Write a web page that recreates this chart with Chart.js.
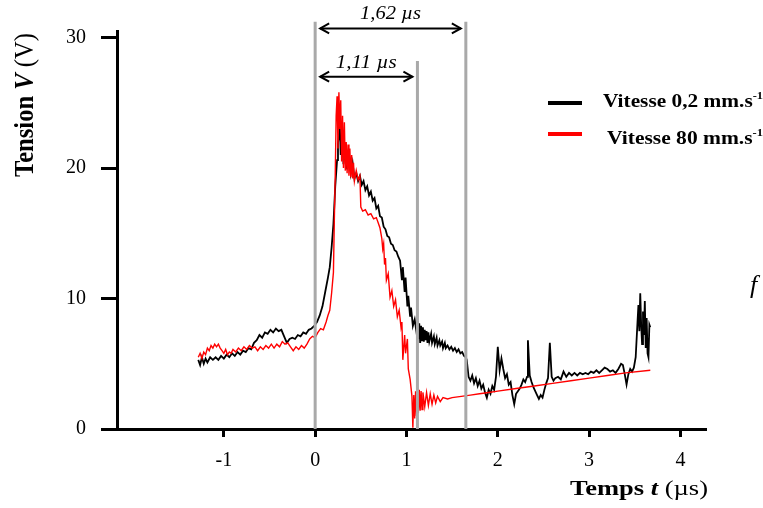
<!DOCTYPE html>
<html>
<head>
<meta charset="utf-8">
<script src="https://cdn.jsdelivr.net/npm/chart.js@4"></script>
<style>
html,body{margin:0;padding:0;background:#fff}
</style>
</head>
<body>
<canvas id="c" width="763" height="508"></canvas>
<script>
// tick labels
const xTicks = [-1, 0, 1, 2, 3, 4];
const yTicks = [0, 10, 20, 30];

// trace "Vitesse 0,2 mm.s-1" (time in µs, tension in V)
const blackTime = [-1.28,-1.26,-1.24,-1.22,-1.20,-1.18,-1.15,-1.12,-1.09,-1.06,-1.03,-1.00,-0.97,-0.94,-0.91,-0.88,-0.85,-0.82,-0.79,-0.76,
  -0.73,-0.70,-0.67,-0.64,-0.61,-0.58,-0.55,-0.52,-0.49,-0.46,-0.43,-0.40,-0.37,-0.34,-0.31,-0.28,-0.25,-0.22,-0.19,-0.16,
  -0.13,-0.10,-0.07,-0.04,-0.01,0.02,0.05,0.08,0.11,0.14,0.16,0.18,0.20,0.22,0.24,0.25,0.27,0.28,0.30,0.31,
  0.33,0.35,0.37,0.39,0.41,0.43,0.45,0.47,0.49,0.51,0.53,0.55,0.57,0.59,0.61,0.63,0.65,0.67,0.69,0.71,
  0.73,0.75,0.77,0.79,0.81,0.83,0.85,0.87,0.89,0.91,0.93,0.95,0.96,0.98,0.99,1.01,1.02,1.04,1.05,1.07,
  1.09,1.11,1.12,1.13,1.14,1.15,1.16,1.17,1.18,1.19,1.20,1.21,1.22,1.23,1.24,1.25,1.27,1.28,1.30,1.31,
  1.33,1.34,1.36,1.37,1.39,1.40,1.42,1.43,1.45,1.47,1.49,1.51,1.53,1.55,1.57,1.59,1.61,1.63,1.65,1.66,
  1.68,1.70,1.72,1.74,1.76,1.78,1.80,1.82,1.84,1.86,1.88,1.90,1.92,1.94,1.96,1.98,2.00,
  2.02,2.04,2.06,2.08,2.10,2.12,2.14,2.16,2.18,2.20,2.22,2.24,2.26,2.28,2.30,2.32,2.33,2.35,2.37,2.39,
  2.41,2.43,2.45,2.47,2.49,2.51,2.53,2.55,2.57,2.59,2.61,2.63,2.66,2.69,2.72,2.75,2.78,2.81,2.84,2.87,
  2.90,2.93,2.96,2.99,3.02,3.05,3.08,3.11,3.14,3.17,3.20,3.23,3.26,3.29,3.32,3.35,3.37,3.39,3.41,3.43,
  3.45,3.47,3.49,3.51,3.53,3.54,3.55,3.56,3.57,3.58,3.59,3.60,3.61,3.62,3.63,3.64,3.65,3.66,3.67];
const blackVolt = [5.3,4.9,5.5,5.0,5.4,5.1,5.5,5.3,5.5,5.3,5.6,5.4,5.7,5.5,5.8,5.6,5.9,5.7,6.0,5.9,
  6.2,6.1,6.6,6.8,7.2,7.0,7.4,7.3,7.6,7.4,7.7,7.5,7.6,7.1,6.6,6.9,7.0,6.9,7.2,7.1,
  7.4,7.3,7.6,7.7,7.9,8.2,8.7,9.4,10.5,11.6,12.4,13.9,15.7,18.6,20.6,21.9,23.2,21.0,22.4,20.3,
  21.9,19.9,21.2,19.6,20.4,19.2,19.6,19.0,19.4,18.7,19.0,18.3,18.6,17.9,18.2,17.5,17.7,16.9,17.1,16.3,
  16.2,15.5,15.3,14.8,14.7,14.2,14.1,13.7,13.6,13.2,12.9,11.4,12.4,10.5,11.6,9.4,10.2,8.6,9.3,7.9,
  8.4,7.4,8.3,6.9,8.1,6.6,7.9,6.8,7.8,6.7,7.6,6.8,7.5,6.6,7.4,6.7,7.3,6.6,7.1,6.5,
  7.0,6.4,6.8,6.4,6.7,6.2,6.6,6.2,6.4,6.1,6.3,6.0,6.2,5.9,6.1,5.8,5.9,5.6,5.5,5.3,
  4.0,3.7,4.1,3.5,3.9,3.3,3.7,3.1,3.4,2.8,2.4,3.0,2.7,3.3,3.0,4.0,6.3,
  4.5,5.4,4.6,3.9,4.2,3.4,3.6,2.6,1.9,2.7,2.9,3.1,3.4,3.8,3.6,4.0,6.8,4.1,3.6,3.2,
  2.9,2.6,2.3,2.6,2.4,3.0,3.5,3.9,6.6,4.0,3.7,3.9,4.0,3.8,4.4,4.0,4.3,4.1,4.3,4.1,
  4.3,4.2,4.3,4.2,4.4,4.3,4.5,4.3,4.5,4.7,4.6,4.4,4.5,4.3,4.6,5.0,4.9,4.2,3.4,4.2,
  4.6,4.4,4.7,5.5,8.2,9.5,7.5,10.4,8.0,6.5,9.0,7.2,9.8,6.2,8.5,5.8,5.5,8.0,7.8];

// trace "Vitesse 80 mm.s-1"
const redTime = [-1.28,-1.26,-1.24,-1.22,-1.20,-1.18,-1.16,-1.14,-1.12,-1.10,-1.08,-1.06,-1.04,-1.02,-1.00,-0.98,-0.96,-0.94,-0.92,-0.90,
  -0.87,-0.84,-0.81,-0.78,-0.75,-0.72,-0.69,-0.66,-0.63,-0.60,-0.57,-0.54,-0.51,-0.48,-0.45,-0.42,-0.39,-0.36,-0.33,-0.30,
  -0.27,-0.24,-0.21,-0.18,-0.15,-0.12,-0.09,-0.06,-0.03,0.00,0.03,0.06,0.09,0.12,0.14,0.16,0.18,0.20,0.21,0.22,
  0.23,0.24,0.25,0.26,0.27,0.28,0.29,0.30,0.31,0.32,0.33,0.34,0.35,0.36,0.37,0.38,0.39,0.40,0.41,0.42,
  0.43,0.45,0.47,0.49,0.50,0.52,0.55,0.58,0.61,0.64,0.67,0.69,0.71,0.73,0.74,0.75,0.76,0.77,0.78,0.80,
  0.82,0.84,0.86,0.88,0.90,0.92,0.94,0.95,0.96,0.98,0.99,1.01,1.02,1.04,1.06,1.07,1.08,1.09,1.10,1.11,
  1.12,1.13,1.14,1.15,1.16,1.17,1.18,1.20,1.22,1.24,1.26,1.28,1.30,1.32,1.34,1.37,1.40,1.45,1.50,1.60,
  1.70,1.80,1.90,2.00,2.20,2.40,2.60,2.80,3.00,3.20,3.40,3.67];
const redVolt = [5.5,5.8,5.4,5.9,5.7,6.2,6.0,6.4,6.2,6.5,6.3,6.5,6.2,6.0,5.8,6.1,5.7,5.9,5.8,6.1,
  5.9,6.2,6.0,6.3,6.1,6.4,6.2,6.3,6.0,6.3,6.1,6.4,6.2,6.5,6.2,6.5,6.3,6.7,6.5,6.6,
  6.3,6.0,6.3,6.1,6.4,6.2,6.5,6.9,7.1,7.0,7.4,7.7,7.6,8.2,8.7,9.1,10.4,12.0,16.0,19.5,
  24.0,25.5,21.5,25.8,23.0,25.2,20.5,24.0,20.0,23.5,19.8,22.0,19.6,21.8,19.4,21.5,19.3,21.0,19.2,20.4,
  19.0,19.8,19.1,19.4,17.0,16.7,16.8,16.4,16.5,16.1,16.2,15.8,15.4,14.6,13.8,14.2,12.6,13.1,11.4,11.9,
  10.1,10.6,9.4,9.9,8.6,9.1,7.8,8.2,5.3,7.2,5.8,6.9,4.6,3.8,2.5,0.1,2.6,0.8,2.9,1.0,
  3.2,1.2,3.0,1.4,2.9,1.5,2.8,1.7,2.8,1.8,2.7,1.9,2.6,2.0,2.5,2.1,2.4,2.3,2.4,2.5,
  2.6,2.7,2.8,2.9,3.1,3.3,3.5,3.7,3.9,4.1,4.3,4.5];

// grey markers: time and how high they reach
const markerTime = [0, 1.12, 1.65];
const markerTop = [31.2, 28.2, 31.2];

// durations shown with arrows
const spanLabels = ['1,62 µs', '1,11 µs'];
const spanMarker = [2, 1];      // which marker the arrow goes to
const spanLevel = [30.7, 27.0]; // height of the arrow (V)

const legendLabels = ['Vitesse 0,2 mm.s', 'Vitesse 80 mm.s'];
const legendColors = ['#000000', '#ff0000'];

const SERIF = '"Liberation Serif", "Times New Roman", serif';

function pts(xs, ys) {
  return xs.map((x, i) => ({x: x, y: ys[i]}));
}

// text with mixed fonts, squeezed/stretched to a given width
function drawRich(ctx, parts, x, y, width) {
  let natural = 0;
  parts.forEach(p => { ctx.font = p.font; natural += ctx.measureText(p.text).width; });
  const k = width ? width / natural : 1;
  ctx.save();
  ctx.translate(x, y);
  ctx.scale(k, 1);
  ctx.textBaseline = 'alphabetic';
  ctx.textAlign = 'left';
  let cx = 0;
  parts.forEach(p => {
    ctx.font = p.font;
    ctx.fillText(p.text, cx, p.dy || 0);
    cx += ctx.measureText(p.text).width;
  });
  ctx.restore();
}

function arrowHead(ctx, x, y, dir) {
  ctx.beginPath();
  ctx.moveTo(x - dir * 9, y - 5);
  ctx.lineTo(x, y);
  ctx.lineTo(x - dir * 9, y + 5);
  ctx.stroke();
}

const decor = {
  id: 'decor',
  afterDraw(chart) {
    const ctx = chart.ctx;
    const xs = chart.scales.x, ys = chart.scales.y;
    ctx.save();
    ctx.fillStyle = '#000';
    ctx.strokeStyle = '#000';

    // arrows between markers
    ctx.lineWidth = 2;
    spanLabels.forEach((lab, i) => {
      const x0 = xs.getPixelForValue(markerTime[0]) + 5;
      const x1 = xs.getPixelForValue(markerTime[spanMarker[i]]) - 5;
      const y = ys.getPixelForValue(spanLevel[i]);
      ctx.beginPath();
      ctx.moveTo(x0, y);
      ctx.lineTo(x1, y);
      ctx.stroke();
      arrowHead(ctx, x0, y, -1);
      arrowHead(ctx, x1, y, 1);
      const w = 61;
      drawRich(ctx, [{font: 'italic 18px ' + SERIF, text: lab}], (x0 + x1) / 2 - w / 2, y - 9, w);
    });

    // legend
    legendLabels.forEach((lab, i) => {
      const ly = 103 + i * 31;
      ctx.strokeStyle = legendColors[i];
      ctx.lineWidth = 4;
      ctx.beginPath();
      ctx.moveTo(548, ly);
      ctx.lineTo(582, ly);
      ctx.stroke();
      drawRich(ctx, [
        {font: 'bold 19px ' + SERIF, text: lab},
        {font: 'bold 11px ' + SERIF, text: '-1', dy: -8}
      ], i === 0 ? 603 : 607, ly + 4 + i * 6, i === 0 ? 160 : 156);
    });

    // axis titles
    drawRich(ctx, [
      {font: 'bold 20px ' + SERIF, text: 'Temps '},
      {font: 'bold italic 20px ' + SERIF, text: 't'},
      {font: '20px ' + SERIF, text: ' (µs)'}
    ], 570, 495, 138);

    ctx.save();
    ctx.translate(33, 177);
    ctx.rotate(-Math.PI / 2);
    drawRich(ctx, [
      {font: 'bold 27px ' + SERIF, text: 'Tension '},
      {font: 'bold italic 27px ' + SERIF, text: 'V'},
      {font: '27px ' + SERIF, text: ' (V)'}
    ], 0, 0, 144);
    ctx.restore();

    // stray letter cut at the right edge
    drawRich(ctx, [{font: 'italic 26px ' + SERIF, text: 'f'}], 750, 293);
    ctx.restore();
  }
};

const markerSets = markerTime.map((t, i) => ({
  data: [{x: t, y: 0}, {x: t, y: markerTop[i]}],
  borderColor: '#a9a9a9',
  borderWidth: 3,
  clip: false
}));

new Chart(document.getElementById('c'), {
  type: 'scatter',
  data: {
    datasets: [
      ...markerSets,
      {label: legendLabels[1], data: pts(redTime, redVolt), borderColor: '#ff0000', borderWidth: 1.4},
      {label: legendLabels[0], data: pts(blackTime, blackVolt), borderColor: '#000000', borderWidth: 1.8}
    ]
  },
  options: {
    responsive: false,
    animation: false,
    devicePixelRatio: 1,
    showLine: true,
    elements: {point: {radius: 0}, line: {tension: 0}},
    layout: {padding: {top: 31, right: 57, left: 0, bottom: 0}},
    plugins: {legend: {display: false}, tooltip: {enabled: false}},
    scales: {
      x: {
        type: 'linear',
        min: -2.17,
        max: 4.28,
        afterBuildTicks: s => { s.ticks = xTicks.map(v => ({value: v})); },
        afterFit: s => { s.height = 79; },
        ticks: {color: '#000', font: {family: SERIF, size: 20}, padding: 12},
        grid: {drawOnChartArea: false, drawTicks: true, tickLength: 8, tickWidth: 3, tickColor: '#000'},
        border: {display: true, color: '#000', width: 3}
      },
      y: {
        min: 0,
        max: 30.5,
        afterBuildTicks: s => { s.ticks = yTicks.map(v => ({value: v})); },
        afterFit: s => { s.width = 117; },
        ticks: {color: '#000', font: {family: SERIF, size: 20}, padding: 15},
        grid: {drawOnChartArea: false, drawTicks: true, tickLength: 16, tickWidth: 3, tickColor: '#000'},
        border: {display: true, color: '#000', width: 3}
      }
    }
  },
  plugins: [decor]
});
</script>
</body>
</html>
